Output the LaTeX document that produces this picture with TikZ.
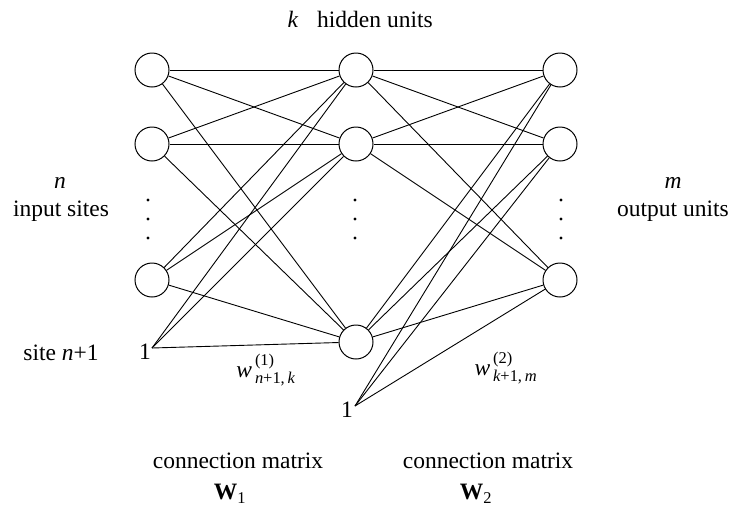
\documentclass[tikz,border=0pt]{standalone}
\usepackage{fontspec}
\usepackage{amsmath}
\setmainfont{Liberation Serif}
\begin{document}
\begin{tikzpicture}[x=1pt,y=-1pt,
  unit/.style={draw,circle,minimum size=34pt,inner sep=0pt,line width=1pt},
  conn/.style={line width=0.9pt},
  lbl/.style={inner sep=0pt,font=\fontsize{23.5}{27}\selectfont},
  dotmark/.style={fill=black}]
\useasboundingbox (0,0) rectangle (731,507);
% units
\node[unit] (i1) at (152,70) {};
\node[unit] (i2) at (152,144) {};
\node[unit] (i3) at (152,280) {};
\node[unit] (h1) at (356,70) {};
\node[unit] (h2) at (356,144) {};
\node[unit] (h3) at (356,342) {};
\node[unit] (o1) at (560,70) {};
\node[unit] (o2) at (560,144) {};
\node[unit] (o3) at (560,280) {};
% bias sites
\node[lbl,anchor=east] (b1) at (151,352) {1};
\coordinate (b1p) at (152,348);
\node[lbl,anchor=east] (b2) at (353,410) {1};
\coordinate (b2p) at (355,406);
% connections layer 1
\foreach \a in {i1,i2,i3,b1p}
  \foreach \b in {h1,h2,h3}
    \draw[conn] (\a) -- (\b);
% connections layer 2
\foreach \a in {h1,h2,h3,b2p}
  \foreach \b in {o1,o2,o3}
    \draw[conn] (\a) -- (\b);
% dots
\foreach \x in {148,355,561}
  \foreach \y in {200,219,238}
    \fill[dotmark] (\x,\y) circle (1.6pt);
% labels
\node[lbl,anchor=base] (kk) at (293,27) {\textit{k}};
\node[lbl,anchor=base west] (hu) at (317,27) {hidden units};
\node[lbl] (nn) at (60,183) {\textit{n}};
\node[lbl] (is) at (61,211) {input sites};
\node[lbl] (mm) at (673,183) {\textit{m}};
\node[lbl] (ou) at (673,211) {output units};
\node[lbl] (sn) at (61,353) {site \textit{n}+1};
\node[lbl] (w1) at (266,370) {$\textit{w}^{\,\text{(1)}}_{\,\textit{n}\text{+1,}\,\textit{k}}$};
\node[lbl] (w2) at (506,368) {$\textit{w}^{\,\text{(2)}}_{\,\textit{k}\text{+1,}\,\textit{m}}$};
\node[lbl] (c1) at (238,461) {connection matrix};
\node[lbl] (m1) at (230,494) {$\textbf{W}_{\text{1}}$};
\node[lbl] (c2) at (488,461) {connection matrix};
\node[lbl] (m2) at (476,494) {$\textbf{W}_{\text{2}}$};
\end{tikzpicture}
\end{document}
